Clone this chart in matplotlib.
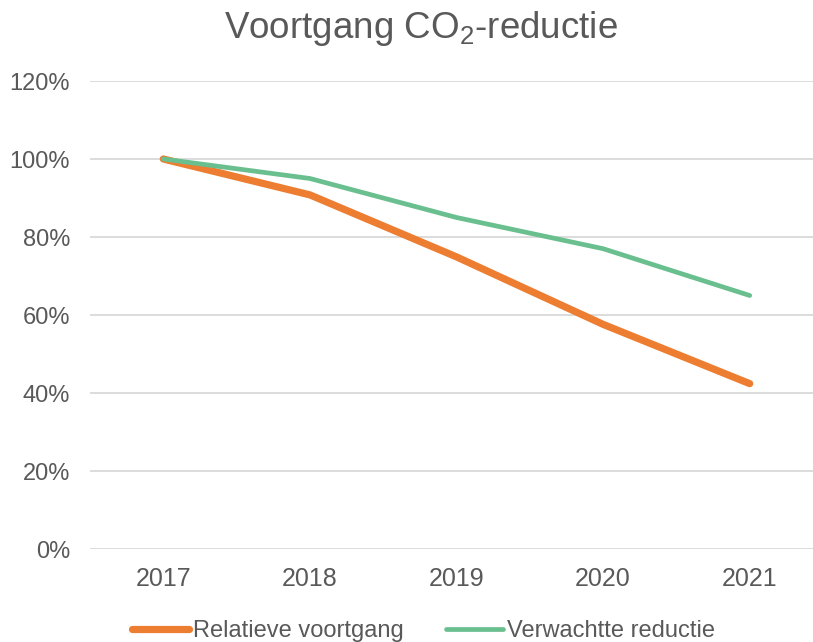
import matplotlib
matplotlib.use("Agg")
import matplotlib.pyplot as plt
from matplotlib.ticker import FuncFormatter

years = ["2017", "2018", "2019", "2020", "2021"]
relatieve_voortgang = [100.0, 90.8, 74.9, 57.6, 42.4]
verwachtte_reductie = [100.0, 95.0, 85.0, 77.0, 65.0]
y_ticks = [0, 20, 40, 60, 80, 100, 120]

plt.rcParams['font.family'] = ['Liberation Sans', 'DejaVu Sans']
plt.rcParams['mathtext.default'] = 'regular'

TEXT = '#595959'
GRID = '#D9D9D9'
ORANGE = '#ED7D31'
GREEN = '#6ABF8F'

fig = plt.figure(figsize=(8.13, 6.42), dpi=100)
ax = fig.add_axes([90/813, 93/642, 733/813, 468/642])

x = list(range(len(years)))
ax.plot(x, relatieve_voortgang, color=ORANGE, lw=5.2, solid_capstyle='round',
        solid_joinstyle='round', label='Relatieve voortgang', zorder=3)
ax.plot(x, verwachtte_reductie, color=GREEN, lw=3.4, solid_capstyle='round',
        solid_joinstyle='round', label='Verwachtte reductie', zorder=4)

ax.set_xlim(-0.5, len(years) - 0.5)
ax.set_ylim(0, 120)
ax.set_xticks(x)
ax.set_xticklabels(years)
ax.set_yticks(y_ticks)
ax.yaxis.set_major_formatter(FuncFormatter(lambda v, p: f"{int(v)}%"))
ax.grid(axis='y', color=GRID, lw=1.3)
ax.set_axisbelow(True)
for s in ax.spines.values():
    s.set_visible(False)
ax.tick_params(axis='both', length=0, colors=TEXT)
ax.tick_params(axis='x', pad=13, labelsize=18)
ax.tick_params(axis='y', pad=14.4, labelsize=17)

fig.text(0.518, 1 - 38/642, 'Voortgang CO$_2$-reductie', ha='center', va='baseline',
         fontsize=26.5, color=TEXT)

leg = fig.legend(loc='center', bbox_to_anchor=(0.521, 0.017), ncol=2,
                 frameon=False, fontsize=17, handlelength=2.41, handletextpad=0.17,
                 columnspacing=1.82, labelcolor=TEXT, borderpad=0)

fig.savefig('out.png', dpi=100)
